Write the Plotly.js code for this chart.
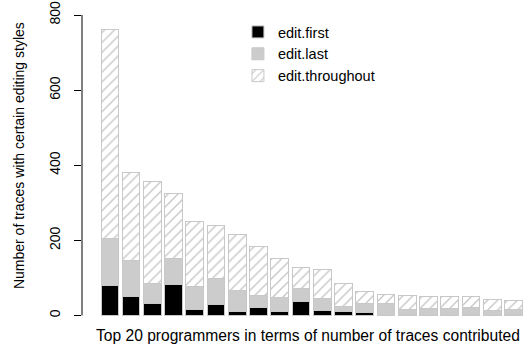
<!DOCTYPE html>
<html>
<head>
<meta charset="utf-8">
<script src="https://cdn.plot.ly/plotly-3.0.1.min.js"></script>
<style>html,body{margin:0;padding:0;background:#fff;}#chart{width:525px;height:344px;}</style>
</head>
<body>
<div id="chart"></div>
<script>
// Programmers ranked 1..20
const programmers = [1,2,3,4,5,6,7,8,9,10,11,12,13,14,15,16,17,18,19,20];
// Stacked segment counts per programmer
const editFirst      = [81, 51, 33, 82, 16, 28, 11, 20, 11, 38, 14, 11,  9,  1,  3,  1,  1,  2,  1,  2];
const editLast       = [125, 95, 51, 70, 60, 70, 55, 34, 38, 33, 31, 12, 24, 31, 13, 17, 17, 20, 13, 14];
const editThroughout = [556, 234, 273, 172, 174, 141, 149, 130, 104, 56, 77, 63, 30, 24, 37, 32, 32, 28, 28, 25];
const seriesNames = ['edit.first', 'edit.last', 'edit.throughout'];
const yTicks = [0, 200, 400, 600, 800];
const xTitle = 'Top 20 programmers in terms of number of traces contributed';
const yTitle = 'Number of traces with certain editing styles';

const FONT = 'Liberation Sans, Arial, Helvetica, sans-serif';
const border = {color: '#c8c8c8', width: 1};

const traces = [
  {type: 'bar', x: programmers, y: editFirst, name: seriesNames[0],
   marker: {color: '#000000', line: border}},
  {type: 'bar', x: programmers, y: editLast, name: seriesNames[1],
   marker: {color: '#cccccc', line: border}},
  {type: 'bar', x: programmers, y: editThroughout, name: seriesNames[2],
   marker: {color: '#ffffff', line: border,
            pattern: {shape: '/', fgcolor: '#c4c4c4', bgcolor: '#ffffff', size: 7, solidity: 0.18}}}
];

const layout = {
  width: 525, height: 344,
  margin: {l: 82, r: 0, t: 3, b: 16, pad: 0},
  paper_bgcolor: '#ffffff', plot_bgcolor: '#ffffff',
  barmode: 'stack', bargap: 0.167,
  font: {family: FONT, color: '#000000', size: 14},
  showlegend: true,
  legend: {x: 0.352, y: 0.96, xanchor: 'left', yanchor: 'top', traceorder: 'normal',
           bgcolor: 'rgba(0,0,0,0)', borderwidth: 0, font: {family: FONT, size: 14.5, color: '#000'}},
  xaxis: {range: [-0.311, 20.546], showgrid: false, zeroline: false, showline: false,
          showticklabels: false, ticks: '', fixedrange: true},
  yaxis: {range: [-33.3, 832], showgrid: false, zeroline: false, showline: false,
          tickmode: 'array', tickvals: yTicks, ticktext: yTicks.map(String),
          ticks: 'outside', ticklen: 7, tickwidth: 1, tickcolor: '#000',
          tickangle: -90, ticklabelstandoff: 8,
          tickfont: {family: FONT, size: 14, color: '#000'}, fixedrange: true},
  shapes: [{type: 'line', xref: 'paper', yref: 'y', x0: 0, x1: 0,
            y0: yTicks[0], y1: yTicks[yTicks.length - 1], line: {color: '#000', width: 1}}],
  annotations: [
    {text: xTitle, xref: 'paper', yref: 'paper', x: 0.51, y: 0, xanchor: 'center', yanchor: 'middle',
     yshift: -7, showarrow: false, font: {family: FONT, size: 15.6, color: '#000'}},
    {text: yTitle, xref: 'paper', yref: 'paper', x: 0, y: 0.529, xanchor: 'center', yanchor: 'middle',
     xshift: -63, textangle: -90, showarrow: false, font: {family: FONT, size: 14, color: '#000'}}
  ],
  hovermode: false
};

Plotly.newPlot('chart', traces, layout, {staticPlot: true, displayModeBar: false});
</script>
</body>
</html>
